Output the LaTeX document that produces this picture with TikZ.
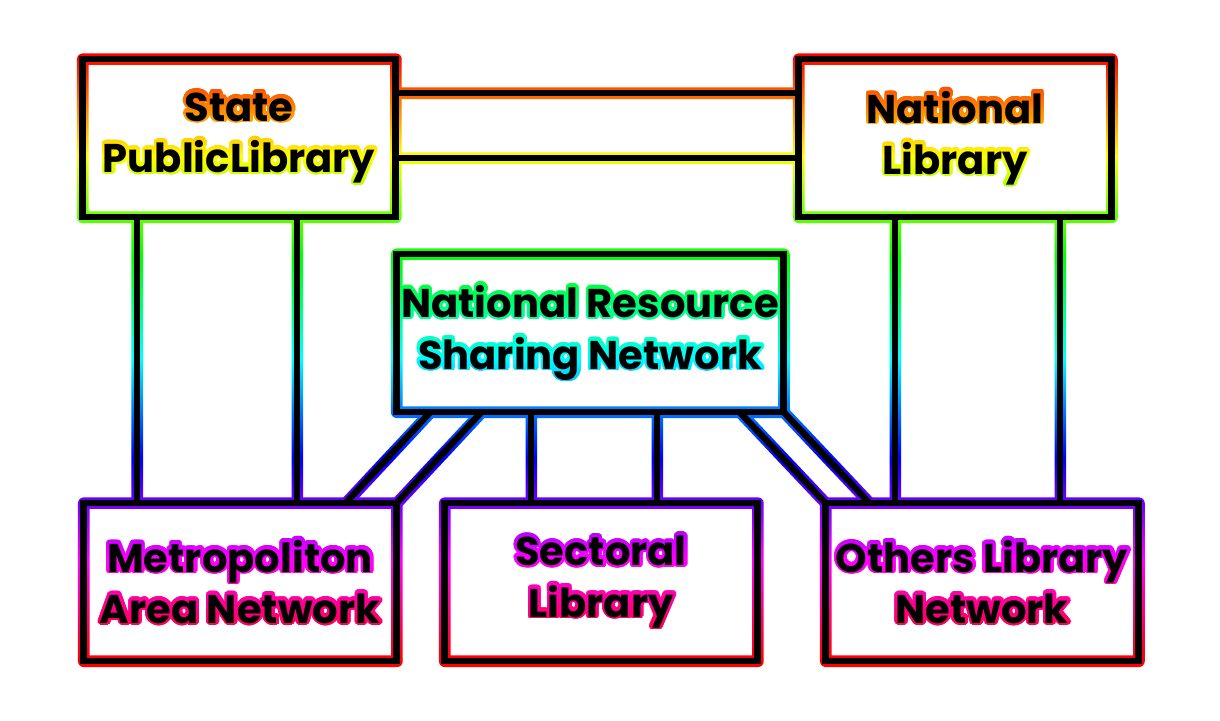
\documentclass[tikz,border=0pt]{standalone}
\usepackage{fontspec}
\setmainfont{Poppins}
\usepackage[copies]{contour}
\usetikzlibrary{fadings, calc}
\contourlength{0.8pt}
\contournumber{32}

% hue runs red -> yellow -> green -> cyan -> blue -> magenta -> red, top to bottom
\pgfdeclareverticalshading{rainbow}{100bp}{%
  rgb(0bp)=(1,0,0); rgb(29.17bp)=(1,0,0); rgb(36.18bp)=(1,0,1);
  rgb(43.19bp)=(0,0,1); rgb(50.17bp)=(0,1,1); rgb(57.15bp)=(0,1,0);
  rgb(64.17bp)=(1,1,0); rgb(71.18bp)=(1,0,0); rgb(100bp)=(1,0,0)}

\newif\ifglow
\newcommand\glowtext[1]{\ifglow\contour{white}{#1}\else#1\fi}

\tikzset{
  px/.style={x=0.01cm, y=-0.01cm},
  box/.style={rectangle, draw, inner sep=0pt, outer sep=0pt, minimum width=3.13cm,
              minimum height=1.58cm, align=center,
              font=\bfseries\fontsize{11.4}{14.6}\selectfont},
  link/.style={draw},
  glowlayer/.style={line width=3.3pt, line join=round, color=white},
  inklayer/.style={line width=1.85pt, color=black}
}

\newcommand\drawnet{%
  % boxes
  \node[box] (spl) at (239,138) {\glowtext{State}\\\glowtext{PublicLibrary}};
  \node[box] (nl) at (955,138) {\glowtext{National}\\\glowtext{Library}};
  \node[box, minimum width=3.87cm] (nrsn) at (590,333)
    {\glowtext{National Resource}\\\glowtext{Sharing Network}};
  \node[box] (man) at (240,582) {\glowtext{Metropoliton}\\\glowtext{Area Network}};
  \node[box] (sl) at (601,582) {\glowtext{Sectoral}\\\glowtext{Library}};
  \node[box] (oln) at (982,582) {\glowtext{Others Library}\\\glowtext{Network}};
  % top links
  \draw[link] ([yshift=0.45cm]spl.east) -- ([yshift=0.45cm]nl.west);
  \draw[link] ([yshift=-0.2cm]spl.east) -- ([yshift=-0.2cm]nl.west);
  \draw[link] ([xshift=-1.02cm]spl.south) -- ([xshift=-1.02cm]spl.south |- man.north);
  \draw[link] ([xshift=0.58cm]spl.south) -- ([xshift=0.58cm]spl.south |- man.north);
  \draw[link] ([xshift=-0.6cm]nl.south) -- ([xshift=-0.6cm]nl.south |- oln.north);
  \draw[link] ([xshift=1.05cm]nl.south) -- ([xshift=1.05cm]nl.south |- oln.north);
  % links from the sharing network
  \draw[link] ([xshift=-0.59cm]nrsn.south) -- ([xshift=-0.59cm]nrsn.south |- sl.north);
  \draw[link] ([xshift=0.67cm]nrsn.south) -- ([xshift=0.67cm]nrsn.south |- sl.north);
  \draw[link] ([xshift=0.34cm]nrsn.south west) -- ([xshift=-0.51cm]man.north east);
  \draw[link] ([xshift=0.85cm]nrsn.south west) -- (man.north east);
  \draw[link] ([xshift=-0.44cm]nrsn.south east) -- (oln.north west);
  \draw[link] (nrsn.south east) -- ([xshift=0.44cm]oln.north west);
}

\begin{document}

\begin{tikzpicture}[px]
  \fill[white] (0,0) rectangle (1220,720);
  % glow mask, built in an empty node
  \node[inner sep=0pt] (mask) at (610,360) {%
    \begin{tikzfadingfrompicture}[name=glow]
      \begin{scope}[px, glowlayer]
        \useasboundingbox (0,0) rectangle (1220,720);
        \glowtrue
        \drawnet
      \end{scope}
    \end{tikzfadingfrompicture}};
  \shade[shading=rainbow, path fading=glow, fit fading=false,
         fading transform={xshift=6.1cm, yshift=-3.6cm}] (0,0) rectangle (1220,720);
  \begin{scope}[inklayer]
    \drawnet
  \end{scope}
\end{tikzpicture}

\end{document}
